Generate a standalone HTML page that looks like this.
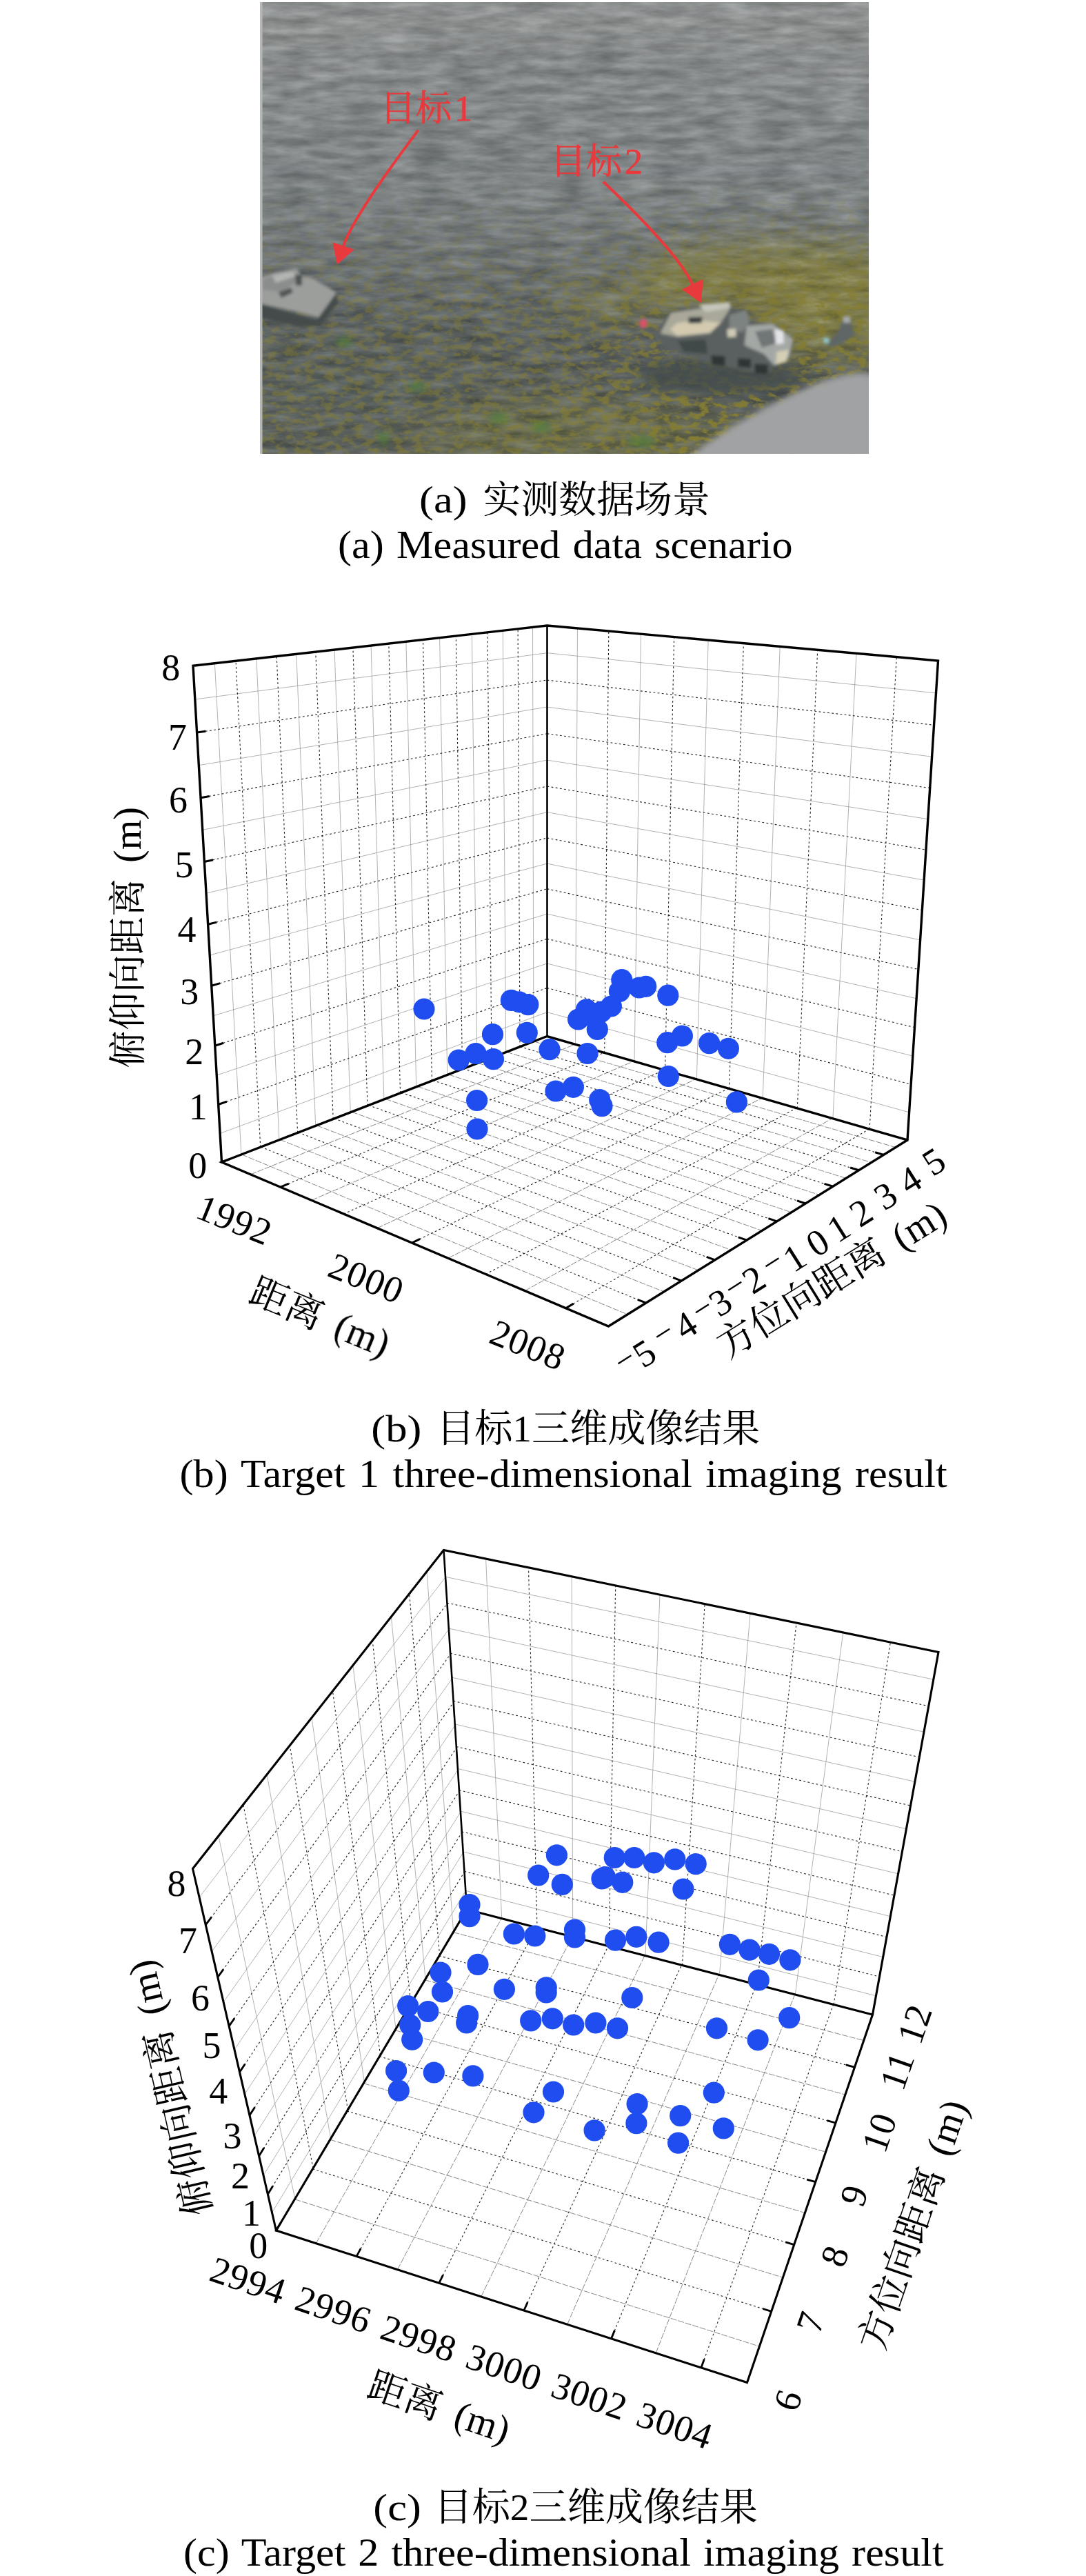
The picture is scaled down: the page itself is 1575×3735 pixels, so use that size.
<!DOCTYPE html><html><head><meta charset="utf-8"><title>fig</title><style>html,body{margin:0;padding:0;background:#fff;width:1575px;height:3735px;overflow:hidden}svg{display:block}text{font-family:"Liberation Serif","Noto Serif CJK SC",serif;fill:#000}</style></head><body>
<svg width="1575" height="3735" viewBox="0 0 1575 3735">
<rect width="1575" height="3735" fill="#fff"/>
<defs>
<clipPath id="pc"><rect x="377" y="3" width="883" height="655"/></clipPath>
<linearGradient id="bg" x1="0" y1="0" x2="0" y2="1">
<stop offset="0" stop-color="#949696"/><stop offset="0.12" stop-color="#8f9292"/><stop offset="0.24" stop-color="#868a8b"/><stop offset="0.42" stop-color="#7e8486"/><stop offset="0.58" stop-color="#697073"/><stop offset="0.72" stop-color="#545b5b"/><stop offset="1" stop-color="#505651"/>
</linearGradient>
<linearGradient id="ymaskg" x1="0" y1="0" x2="0" y2="1">
<stop offset="0.38" stop-color="#000"/><stop offset="0.54" stop-color="#555"/><stop offset="0.68" stop-color="#ccc"/><stop offset="1" stop-color="#fff"/>
</linearGradient>
<linearGradient id="ymaskh" x1="0" y1="0" x2="1" y2="0">
<stop offset="0" stop-color="#8a8a8a"/><stop offset="0.45" stop-color="#9a9a9a"/><stop offset="0.72" stop-color="#fff"/><stop offset="1" stop-color="#fff"/>
</linearGradient>
<mask id="ym" maskUnits="userSpaceOnUse" x="377" y="3" width="883" height="655">
<rect x="377" y="3" width="883" height="655" fill="url(#ymaskg)"/>
<rect x="377" y="3" width="883" height="655" fill="url(#ymaskh)" style="mix-blend-mode:multiply"/>
</mask>
<filter id="yel" filterUnits="userSpaceOnUse" x="377" y="3" width="883" height="655" color-interpolation-filters="sRGB">
<feTurbulence type="fractalNoise" baseFrequency="0.07 0.12" numOctaves="3" seed="7"/>
<feColorMatrix type="matrix" values="0 0 0 0 0.52  0 0 0 0 0.49  0 0 0 0 0.20  5 0 0 0 -2.3"/>
</filter>
<filter id="rip" filterUnits="userSpaceOnUse" x="377" y="3" width="883" height="655" color-interpolation-filters="sRGB">
<feTurbulence type="fractalNoise" baseFrequency="0.02 0.08" numOctaves="4" seed="11"/>
<feColorMatrix type="matrix" values="1.2 0 0 0 -0.11  1.2 0 0 0 -0.10  1.2 0 0 0 -0.10  0 0 0 0 0.22"/>
</filter>
<filter id="b1"><feGaussianBlur stdDeviation="1.3"/></filter>
<filter id="b2"><feGaussianBlur stdDeviation="2"/></filter>
<filter id="b4"><feGaussianBlur stdDeviation="4"/></filter>
<filter id="b8"><feGaussianBlur stdDeviation="9"/></filter>
<filter id="b20"><feGaussianBlur stdDeviation="22"/></filter>
</defs>
<g clip-path="url(#pc)">
<rect x="377" y="3" width="883" height="655" fill="url(#bg)"/>
<g filter="url(#b20)">
<ellipse cx="1130" cy="402" rx="205" ry="48" fill="#847f3a" opacity="0.9"/>
<ellipse cx="1200" cy="470" rx="110" ry="50" fill="#847f38" opacity="0.8"/>
<ellipse cx="900" cy="440" rx="90" ry="25" fill="#7d7a42" opacity="0.6"/>
<ellipse cx="820" cy="630" rx="240" ry="45" fill="#777640" opacity="0.55"/>
<ellipse cx="520" cy="570" rx="190" ry="75" fill="#535a58" opacity="0.6"/>
<ellipse cx="1050" cy="545" rx="125" ry="30" fill="#414949" opacity="0.9"/>
<ellipse cx="800" cy="95" rx="260" ry="14" fill="#6f7575" opacity="0.7"/>
<ellipse cx="640" cy="215" rx="160" ry="12" fill="#6d7373" opacity="0.5"/>
</g>
<rect x="377" y="3" width="883" height="655" filter="url(#rip)"/>
<g mask="url(#ym)"><rect x="377" y="3" width="883" height="655" filter="url(#yel)"/></g>
<ellipse cx="1045" cy="545" rx="120" ry="26" fill="#454d4d" opacity="0.85" filter="url(#b8)"/>
<g filter="url(#b4)" fill="#55803a" opacity="0.7"><ellipse cx="499" cy="496" rx="12" ry="7"/><ellipse cx="605" cy="561" rx="13" ry="7"/><ellipse cx="724" cy="606" rx="14" ry="8"/><ellipse cx="556" cy="635" rx="9" ry="9"/><ellipse cx="785" cy="619" rx="14" ry="8"/><ellipse cx="930" cy="640" rx="20" ry="8"/></g>
<g filter="url(#b2)">
<path d="M377,462 L377,440 L460,464 L470,440 L488,424 L490,440 L466,470 L440,474 Z" fill="#454c4c"/>
<path d="M377,403 L400,395 L430,389 L438,401 L452,403 L488,424 L462,460 L430,452 L377,440 Z" fill="#9c9e9c"/>
<path d="M381,405 L424,391 L436,404 L408,424 L381,420 Z" fill="#8a8d8b"/>
<path d="M395,400 L424,393 L430,400 L400,410 Z" fill="#b4b6b4"/>
<path d="M428,398 L438,398 L438,414 L429,414 Z" fill="#4d5453"/>
<path d="M404,424 L422,417 L425,424 L408,432 Z" fill="#4d5453"/>
</g>
<g filter="url(#b2)">
<path d="M951.3,485.1 L970.1,450.7 L1013.9,444.4 L1057.8,438.2 L1062.5,447.6 L1082.8,449.1 L1089.1,466.4 L1123.5,469.5 L1151.7,491.4 L1145.4,519.6 L1120.4,532.1 L1114.1,541.5 L1089.1,538.4 L1045.2,529.0 L998.3,516.4 L960.7,500.8 Z" fill="#5a6160"/>
<path d="M957.6,483.6 L973.2,453.8 L1013.9,447.6 L1054.6,441.3 L1057.8,449.1 L1045.2,467.9 L1029.6,483.6 L982.6,488.3 Z" fill="#a9a89a"/>
<path d="M971.7,477.3 L982.6,467.9 L1013.9,464.8 L1045.2,467.9 L1029.6,482.0 L982.6,486.7 Z" fill="#d3cab0"/>
<path d="M1013.9,441.9 L1057.8,438.2 L1059.6,446.3 L1023.3,452.6 Z" fill="#c6c6bc"/>
<path d="M998.3,460.1 L1018.6,459.5 L1017.7,468.2 L998.9,468.9 Z" fill="#373d3d"/>
<path d="M1082.8,472.6 L1120.4,469.5 L1150.1,491.4 L1143.9,518.0 L1123.5,530.5 L1107.9,513.3 L1079.7,500.8 Z" fill="#a4a8a5"/>
<path d="M1095.3,480.4 L1120.4,477.3 L1126.6,497.7 L1104.7,503.9 Z" fill="#6f7574"/>
<path d="M1123.5,477.3 L1136.0,479.5 L1136.7,497.7 L1125.1,499.2 Z" fill="#e3e4e8"/>
<path d="M1126.6,510.2 L1143.9,507.1 L1140.7,524.3 L1125.1,529.0 Z" fill="#d6cfb6"/>
<path d="M1057.8,457.0 L1082.8,449.1 L1087.5,466.4 L1076.5,482.0 L1057.8,477.3 Z" fill="#7d8381"/>
<path d="M1054.6,477.3 L1067.2,476.4 L1067.8,488.3 L1055.3,488.9 Z" fill="#cfcab5"/>
<path d="M1031.1,514.9 L1051.5,516.4 L1051.5,530.5 L1032.7,528.3 Z" fill="#2f3636"/>
<path d="M1069.7,519.6 L1089.1,520.2 L1089.1,533.7 L1070.3,532.1 Z" fill="#2f3636"/>
<path d="M1093.8,527.4 L1114.1,528.3 L1113.5,542.1 L1094.7,540.9 Z" fill="#2f3636"/>
<path d="M982.6,494.5 L1023.3,492.0 L1026.4,513.3 L992.0,510.2 Z" fill="#414847"/>
<ellipse cx="933" cy="469" rx="5.5" ry="6.5" fill="#e0506a"/>
<path d="M1198.6,500.8 L1217.4,477.3 L1222.1,461.7 L1233.1,460.1 L1236.2,477.3 L1240.9,485.1 L1220.6,497.7 L1208.0,503.9 Z" fill="#5f6666"/>
<path d="M1222.1,458.5 L1233.1,458.5 L1233.1,467.9 L1223.1,467.9 Z" fill="#a4aaaa"/>
<path d="M1194.0,489.8 L1201.8,489.8 L1201.8,497.7 L1194.6,497.7 Z" fill="#8fc6d6"/>
</g>
<path d="M993,666 Q1062,614 1146,573 T1268,544 L1268,666 Z" fill="#a1a2a4" filter="url(#b4)"/>
<rect x="377" y="3" width="3.5" height="655" fill="#b6b7b7"/>
</g>
<g fill="#e8393c" stroke="#e8393c" stroke-width="0.6" font-size="52">
<text x="551" y="174.5" style="fill:#e8393c">目标<tspan dx="4">1</tspan></text>
<text x="798" y="252" style="fill:#e8393c">目标<tspan dx="4">2</tspan></text>
<path d="M606.7,188.6 Q511.7,314.7 498,357" fill="none" stroke="#e8393c" stroke-width="4"/>
<path d="M482.2,351.2 L513.6,361.8 L489.2,383.8 Z" stroke="none"/>
<path d="M875,263.5 Q985,368 1005,414" fill="none" stroke="#e8393c" stroke-width="4"/>
<path d="M988.9,419.5 L1020.2,404.5 L1016.6,439.1 Z" stroke="none"/>
</g>
<path d="M349.9,1674.0L311.4,961.7M404.9,1652.7L371.9,954.9M457.7,1632.3L429.8,948.3M508.3,1612.8L485.1,942.0M556.9,1594.0L538.1,936.0M603.7,1575.9L588.9,930.2M648.7,1558.5L637.6,924.7M692.0,1541.8L684.4,919.4M733.7,1525.6L729.3,914.3M773.9,1510.1L772.5,909.4M319.1,1643.4L793.5,1467.6M314.2,1559.1L793.5,1396.9M309.3,1472.9L793.5,1325.1M304.2,1385.0L793.5,1252.0M299.0,1295.2L793.5,1177.6M293.7,1203.4L793.5,1102.0M288.3,1109.7L793.5,1025.0M282.8,1014.0L793.5,946.7M834.5,1514.3L837.5,911.0M920.0,1538.9L929.5,919.2M1010.4,1565.0L1027.2,928.0M1106.2,1592.6L1131.2,937.4M1207.9,1621.9L1242.0,947.3M793.5,1467.6L1318.6,1612.8M793.5,1397.0L1323.8,1531.1M793.5,1325.1L1329.1,1447.8M793.5,1252.1L1334.6,1362.8M793.5,1177.7L1340.1,1276.1M793.5,1102.1L1345.8,1187.6M793.5,1025.1L1351.6,1097.2M793.5,946.7L1357.5,1004.9" stroke="#808080" stroke-width="0.6" fill="none"/>
<path d="M363.4,1702.8L834.1,1514.2M451.8,1740.3L919.0,1538.7M547.0,1780.7L1009.1,1564.6M649.9,1824.3L1104.9,1592.2M761.3,1871.6L1207.0,1621.6M350.3,1673.9L910.1,1905.8M405.9,1652.4L962.9,1872.9M459.1,1631.8L1012.9,1841.8M509.9,1612.1L1060.2,1812.3M558.7,1593.3L1105.1,1784.3M605.3,1575.3L1147.8,1757.8M650.1,1557.9L1188.4,1732.5M693.1,1541.3L1227.0,1708.4M734.5,1525.3L1263.8,1685.5M774.2,1510.0L1299.0,1663.6" stroke="#484848" stroke-width="0.65" stroke-dasharray="9 2" fill="none"/>
<path d="M377.7,1663.3L342.0,958.3M431.6,1642.4L401.2,951.5M483.2,1622.5L457.8,945.1M532.9,1603.3L511.9,939.0M580.5,1584.8L563.8,933.1M626.4,1567.1L613.5,927.4M670.5,1550.0L661.3,922.0M713.0,1533.6L707.1,916.8M754.0,1517.8L751.1,911.8M316.7,1601.5L793.5,1432.4M311.8,1516.2L793.5,1361.2M306.7,1429.2L793.5,1288.7M301.6,1340.3L793.5,1215.0M296.4,1249.5L793.5,1140.0M291.0,1156.8L793.5,1063.7M285.6,1062.1L793.5,986.0M876.7,1526.5L882.8,915.0M964.6,1551.8L977.6,923.6M1057.6,1578.6L1078.4,932.6M1156.3,1607.0L1185.7,942.3M1261.1,1637.2L1300.3,952.6M793.5,1432.5L1321.2,1572.2M793.5,1361.2L1326.5,1489.7M793.5,1288.8L1331.8,1405.5M793.5,1215.0L1337.3,1319.7M793.5,1140.1L1343.0,1232.1M793.5,1063.7L1348.7,1142.6M793.5,986.1L1354.5,1051.3M406.8,1721.2L876.0,1526.3M498.5,1760.1L963.4,1551.4M597.4,1802.1L1056.3,1578.2M704.4,1847.5L1155.2,1606.7M820.6,1896.7L1260.6,1637.0M378.4,1663.0L936.9,1889.1M432.8,1642.0L988.2,1857.1M484.8,1621.9L1036.9,1826.9M534.6,1602.6L1083.0,1798.1M582.2,1584.2L1126.7,1770.9M628.0,1566.5L1168.3,1745.0M671.8,1549.5L1207.9,1720.3M714.0,1533.2L1245.6,1696.8M754.5,1517.6L1281.6,1674.4" stroke="#222" stroke-width="1.1" stroke-dasharray="2.8 3.4" fill="none"/>
<path d="M321.5,1685.0L280.0,965.3L793.5,907.0L1360.5,958.0L1316.0,1653.0L882.5,1923.0L321.5,1685.0L793.5,1502.5L1316.0,1653.0" stroke="#000" stroke-width="3.4" fill="none" stroke-linejoin="miter" stroke-linecap="square"/>
<path d="M793.5,907.0L793.5,1502.5" stroke="#000" stroke-width="2.6" fill="none"/>
<path d="M321.5,1685.0L333.6,1680.3M316.7,1601.5L328.9,1597.1M311.8,1516.2L324.1,1512.2M306.7,1429.2L319.2,1425.6M301.6,1340.3L314.2,1337.1M296.4,1249.5L309.1,1246.7M291.0,1156.8L303.8,1154.5M285.6,1062.1L298.4,1060.2M406.8,1721.2L418.8,1716.2M597.4,1802.1L609.1,1796.4M820.6,1896.7L831.8,1890.1M936.9,1889.1L924.8,1884.3M988.2,1857.1L976.1,1852.4M1036.9,1826.9L1024.7,1822.3M1083.0,1798.1L1070.7,1793.8M1126.7,1770.9L1114.4,1766.7M1168.3,1745.0L1156.0,1740.9M1207.9,1720.3L1195.5,1716.4M1245.6,1696.8L1233.2,1693.0M1281.6,1674.4L1269.2,1670.7" stroke="#000" stroke-width="3" fill="none"/>
<g fill="#1f4df0"><circle cx="615" cy="1463" r="15.6"/><circle cx="741.4" cy="1450.4" r="15.6"/><circle cx="753" cy="1452.8" r="15.6"/><circle cx="765.8" cy="1456.6" r="15.6"/><circle cx="714.5" cy="1499.7" r="15.6"/><circle cx="764.3" cy="1497.3" r="15.6"/><circle cx="665.2" cy="1537" r="15.6"/><circle cx="690" cy="1527.5" r="15.6"/><circle cx="715.5" cy="1535.6" r="15.6"/><circle cx="797" cy="1521.7" r="15.6"/><circle cx="852" cy="1527.5" r="15.6"/><circle cx="691.6" cy="1595.5" r="15.6"/><circle cx="692" cy="1637" r="15.6"/><circle cx="806" cy="1582" r="15.6"/><circle cx="831.4" cy="1576.3" r="15.6"/><circle cx="869.7" cy="1594.5" r="15.6"/><circle cx="873" cy="1603.6" r="15.6"/><circle cx="901.8" cy="1420.7" r="15.6"/><circle cx="898.4" cy="1437.5" r="15.6"/><circle cx="936.7" cy="1430.3" r="15.6"/><circle cx="927" cy="1432" r="15.6"/><circle cx="968.8" cy="1443.2" r="15.6"/><circle cx="886.4" cy="1459" r="15.6"/><circle cx="850.5" cy="1463.8" r="15.6"/><circle cx="872" cy="1467" r="15.6"/><circle cx="838.6" cy="1478" r="15.6"/><circle cx="862.5" cy="1475.8" r="15.6"/><circle cx="866.3" cy="1492.5" r="15.6"/><circle cx="967.8" cy="1511.7" r="15.6"/><circle cx="989.4" cy="1502" r="15.6"/><circle cx="1028.6" cy="1512.6" r="15.6"/><circle cx="1056.4" cy="1520.3" r="15.6"/><circle cx="969.3" cy="1560.5" r="15.6"/><circle cx="1068.4" cy="1597.9" r="15.6"/></g>
<text x="247.8" y="986.3" font-size="54" text-anchor="middle">8</text>
<text x="257.5" y="1086.8" font-size="54" text-anchor="middle">7</text>
<text x="258.5" y="1177.8" font-size="54" text-anchor="middle">6</text>
<text x="267" y="1272.3" font-size="54" text-anchor="middle">5</text>
<text x="271" y="1365.8" font-size="54" text-anchor="middle">4</text>
<text x="274.7" y="1455.8" font-size="54" text-anchor="middle">3</text>
<text x="281.8" y="1543.3" font-size="54" text-anchor="middle">2</text>
<text x="287.2" y="1622.8" font-size="54" text-anchor="middle">1</text>
<text x="286.8" y="1708.3" font-size="54" text-anchor="middle">0</text>
<text font-size="55" transform="translate(203.5 1549.0) rotate(-90)">俯仰向距离</text>
<text font-size="56" transform="translate(203.5 1251.0) rotate(-90)">(m)</text>
<text font-size="54" letter-spacing="1" text-anchor="middle" transform="translate(339.9 1769) rotate(22)" y="17.8">1992</text>
<text font-size="54" letter-spacing="1" text-anchor="middle" transform="translate(531.3 1853.7) rotate(22)" y="17.8">2000</text>
<text font-size="54" letter-spacing="1" text-anchor="middle" transform="translate(765.6 1950.4) rotate(22)" y="17.8">2008</text>
<text font-size="55" transform="translate(358.0 1886.5) rotate(22.5)">距离</text>
<text font-size="56" transform="translate(480.9 1937.4) rotate(22.5)">(m)</text>
<text font-size="54" text-anchor="middle" transform="translate(934.7 1962.5) rotate(-32.3)" y="17.8">5</text>
<text font-size="54" text-anchor="middle" transform="translate(994.5 1922.0) rotate(-32.3)" y="17.8">4</text>
<text font-size="54" text-anchor="middle" transform="translate(1045.0 1888.5) rotate(-32.3)" y="17.8">3</text>
<text font-size="54" text-anchor="middle" transform="translate(1093.5 1855.5) rotate(-32.3)" y="17.8">2</text>
<text font-size="54" text-anchor="middle" transform="translate(1152.5 1824.0) rotate(-32.3)" y="17.8">1</text>
<text font-size="54" text-anchor="middle" transform="translate(1186.0 1802.0) rotate(-32.3)" y="17.8">0</text>
<text font-size="54" text-anchor="middle" transform="translate(1216.5 1781.0) rotate(-32.3)" y="17.8">1</text>
<text font-size="54" text-anchor="middle" transform="translate(1249.0 1758.5) rotate(-32.3)" y="17.8">2</text>
<text font-size="54" text-anchor="middle" transform="translate(1284.3 1734.0) rotate(-32.3)" y="17.8">3</text>
<text font-size="54" text-anchor="middle" transform="translate(1320.0 1711.3) rotate(-32.3)" y="17.8">4</text>
<text font-size="54" text-anchor="middle" transform="translate(1354.5 1684.5) rotate(-32.3)" y="17.8">5</text>
<text font-size="48" text-anchor="middle" transform="translate(908.4 1975.0) rotate(-32.3)" y="11.5">−</text>
<text font-size="48" text-anchor="middle" transform="translate(964.1 1936.5) rotate(-32.3)" y="11.5">−</text>
<text font-size="48" text-anchor="middle" transform="translate(1020.8 1901.0) rotate(-32.3)" y="11.5">−</text>
<text font-size="48" text-anchor="middle" transform="translate(1068.0 1868.5) rotate(-32.3)" y="11.5">−</text>
<text font-size="48" text-anchor="middle" transform="translate(1122.4 1834.1) rotate(-32.3)" y="11.5">−</text>
<text font-size="55" transform="translate(1055.0 1971.0) rotate(-31.8)">方位向距离</text>
<text font-size="56" transform="translate(1308.3 1814.0) rotate(-31.8)">(m)</text>
<path d="M427.8,3188.1L316.9,2662.0M479.7,3100.7L387.2,2572.8M528.3,3018.8L452.0,2490.5M574.0,2941.9L511.9,2414.5M617.0,2869.5L567.4,2344.1M657.6,2801.2L619.0,2278.6M394.5,3208.1L675.3,2741.6M382.1,3154.1L671.7,2686.0M368.9,3096.9L667.9,2627.6M354.9,3036.2L664.0,2566.3M340.0,2971.7L659.9,2501.8M324.1,2902.9L655.5,2433.9M307.2,2829.4L650.9,2362.4M289.0,2750.9L646.0,2286.9M727.7,2781.6L704.6,2260.1M830.7,2808.3L829.2,2285.8M936.0,2835.6L957.0,2312.2M1043.4,2863.5L1088.1,2339.2M1153.3,2891.9L1222.7,2367.0M675.2,2741.3L1270.4,2893.8M671.6,2684.9L1280.7,2837.6M667.8,2626.1L1291.4,2778.6M663.9,2564.4L1302.6,2716.8M659.7,2499.9L1314.4,2651.7M655.4,2432.2L1326.9,2583.3M650.8,2361.1L1340.0,2511.2M646.0,2286.3L1353.8,2435.1" stroke="#808080" stroke-width="0.6" fill="none"/>
<path d="M458.3,3252.7L727.4,2781.6M576.4,3290.8L830.0,2808.1M697.8,3330.0L935.0,2835.4M822.7,3370.3L1042.5,2863.2M951.2,3411.8L1152.7,2891.8M427.4,3188.8L1101.4,3402.1M478.7,3102.3L1135.5,3302.2M527.2,3020.7L1167.4,3208.4M572.9,2943.7L1197.5,3120.2M616.2,2870.8L1225.9,3037.1M657.3,2801.7L1252.7,2958.6" stroke="#484848" stroke-width="0.65" stroke-dasharray="9 2" fill="none"/>
<path d="M454.1,3143.7L352.8,2616.4M504.4,3059.1L420.3,2530.8M551.5,2979.8L482.5,2451.8M595.8,2905.1L540.2,2378.7M637.6,2834.8L593.7,2310.7M388.4,3181.5L673.5,2714.1M375.6,3126.0L669.8,2657.1M362.0,3067.0L666.0,2597.3M347.5,3004.4L661.9,2534.4M332.2,2937.8L657.7,2468.3M315.8,2866.8L653.2,2398.6M298.3,2790.8L648.5,2325.1M779.0,2794.9L766.5,2272.9M883.1,2821.9L892.7,2298.9M989.4,2849.5L1022.1,2325.6M1098.1,2877.6L1155.0,2353.0M1209.1,2906.4L1291.4,2381.1M673.5,2713.4L1275.5,2866.1M669.8,2655.8L1285.9,2808.5M665.9,2595.6L1296.9,2748.1M661.8,2532.5L1308.5,2684.7M657.6,2466.4L1320.6,2618.0M653.1,2397.1L1333.3,2547.7M648.4,2324.2L1346.8,2473.7M517.0,3271.6L778.4,2794.8M636.7,3310.3L882.2,2821.7M759.8,3350.0L988.4,2849.2M886.5,3390.9L1097.3,2877.4M1016.9,3433.0L1208.7,2906.3M453.4,3144.9L1118.7,3351.3M503.3,3060.9L1151.7,3254.6M550.4,2981.7L1182.7,3163.7M594.9,2906.7L1211.9,3078.0M637.0,2835.8L1239.5,2997.3" stroke="#222" stroke-width="1.1" stroke-dasharray="2.8 3.4" fill="none"/>
<path d="M400.5,3234.0L279.5,2709.5L643.5,2247.5L1361.0,2395.5L1265.5,2921.0L1083.5,3454.5L400.5,3234.0L677.0,2768.5L1265.5,2921.0" stroke="#000" stroke-width="3.1" fill="none" stroke-linejoin="miter" stroke-linecap="square"/>
<path d="M643.5,2247.5L677.0,2768.5" stroke="#000" stroke-width="2.6" fill="none"/>
<path d="M400.5,3234.0L407.6,3222.0M388.4,3181.5L395.7,3169.6M375.6,3126.0L383.0,3114.1M362.0,3067.0L369.6,3055.3M347.5,3004.4L355.3,2992.8M332.2,2937.8L340.1,2926.3M315.8,2866.8L324.0,2855.4M298.3,2790.8L306.7,2779.7M517.0,3271.6L523.2,3260.2M636.7,3310.3L642.5,3298.6M759.8,3350.0L765.2,3338.2M886.5,3390.9L891.4,3378.9M1016.9,3433.0L1021.3,3420.8M1118.7,3351.3L1106.3,3347.5M1151.7,3254.6L1139.2,3250.9M1182.7,3163.7L1170.2,3160.1M1211.9,3078.0L1199.4,3074.6M1239.5,2997.3L1226.9,2993.9" stroke="#000" stroke-width="2.8" fill="none"/>
<g fill="#1f4df0"><circle cx="807.4" cy="2689.8" r="15.6"/><circle cx="780.7" cy="2719" r="15.6"/><circle cx="815.3" cy="2732.4" r="15.6"/><circle cx="891.3" cy="2693.5" r="15.6"/><circle cx="919.8" cy="2693.5" r="15.6"/><circle cx="948.4" cy="2700.8" r="15.6"/><circle cx="978.8" cy="2695.9" r="15.6"/><circle cx="1009.2" cy="2702.6" r="15.6"/><circle cx="873" cy="2723.9" r="15.6"/><circle cx="877.5" cy="2721.5" r="15.6"/><circle cx="902.8" cy="2729.3" r="15.6"/><circle cx="990.9" cy="2739" r="15.6"/><circle cx="681" cy="2761.5" r="15.6"/><circle cx="681" cy="2778.6" r="15.6"/><circle cx="745.4" cy="2804" r="15.6"/><circle cx="775.8" cy="2807" r="15.6"/><circle cx="833.5" cy="2798" r="15.6"/><circle cx="833.5" cy="2809" r="15.6"/><circle cx="892.5" cy="2813.2" r="15.6"/><circle cx="922.9" cy="2808.3" r="15.6"/><circle cx="955.1" cy="2816.2" r="15.6"/><circle cx="1058.4" cy="2819.3" r="15.6"/><circle cx="1087" cy="2827.2" r="15.6"/><circle cx="1115.5" cy="2833.3" r="15.6"/><circle cx="1145.9" cy="2841.8" r="15.6"/><circle cx="1100.3" cy="2871" r="15.6"/><circle cx="693" cy="2848.4" r="15.6"/><circle cx="639" cy="2860" r="15.6"/><circle cx="641.5" cy="2888" r="15.6"/><circle cx="731.4" cy="2884.3" r="15.6"/><circle cx="792.2" cy="2881.9" r="15.6"/><circle cx="792.2" cy="2889" r="15.6"/><circle cx="916.8" cy="2896.5" r="15.6"/><circle cx="591.7" cy="2908.6" r="15.6"/><circle cx="620.8" cy="2916.5" r="15.6"/><circle cx="678.6" cy="2922.6" r="15.6"/><circle cx="676.7" cy="2933" r="15.6"/><circle cx="769.7" cy="2929.9" r="15.6"/><circle cx="801.3" cy="2926.8" r="15.6"/><circle cx="831.7" cy="2936" r="15.6"/><circle cx="863.9" cy="2933" r="15.6"/><circle cx="895.5" cy="2940.8" r="15.6"/><circle cx="594.7" cy="2936" r="15.6"/><circle cx="597.7" cy="2957.2" r="15.6"/><circle cx="1039.5" cy="2940.8" r="15.6"/><circle cx="1144.7" cy="2925.6" r="15.6"/><circle cx="1099.1" cy="2957.8" r="15.6"/><circle cx="574.6" cy="3002.6" r="15.6"/><circle cx="578.3" cy="3031.2" r="15.6"/><circle cx="629.3" cy="3005" r="15.6"/><circle cx="685.9" cy="3009.9" r="15.6"/><circle cx="802.5" cy="3033" r="15.6"/><circle cx="774" cy="3062.8" r="15.6"/><circle cx="862.1" cy="3088.9" r="15.6"/><circle cx="924.1" cy="3050.6" r="15.6"/><circle cx="922.9" cy="3078.6" r="15.6"/><circle cx="986.7" cy="3067.6" r="15.6"/><circle cx="983.6" cy="3107.1" r="15.6"/><circle cx="1035.3" cy="3034.2" r="15.6"/><circle cx="1049.3" cy="3085.9" r="15.6"/></g>
<text x="256" y="2748.8" font-size="54" text-anchor="middle">8</text>
<text x="272.5" y="2831.8" font-size="54" text-anchor="middle">7</text>
<text x="290.5" y="2914.7000000000003" font-size="54" text-anchor="middle">6</text>
<text x="307" y="2983.8" font-size="54" text-anchor="middle">5</text>
<text x="316.7" y="3049.8" font-size="54" text-anchor="middle">4</text>
<text x="337" y="3114.8" font-size="54" text-anchor="middle">3</text>
<text x="348.5" y="3172.8" font-size="54" text-anchor="middle">2</text>
<text x="364.5" y="3226.8" font-size="54" text-anchor="middle">1</text>
<text x="374.8" y="3273.8" font-size="54" text-anchor="middle">0</text>
<text font-size="55" transform="translate(307.5 3208.0) rotate(-103)">俯仰向距离</text>
<text font-size="56" transform="translate(240.5 2917.6) rotate(-103)">(m)</text>
<text font-size="54" letter-spacing="1" transform="translate(301.3 3305.7) rotate(18.76)" word-spacing="4.2">2994 2996 2998 3000 3002 3004</text>
<text font-size="55" transform="translate(529.4 3474.0) rotate(18.76)">距离</text>
<text font-size="56" transform="translate(655.3 3516.8) rotate(18.76)">(m)</text>
<text font-size="54" letter-spacing="1" text-anchor="middle" transform="translate(1143 3479.9) rotate(-71)" y="17.8">6</text>
<text font-size="54" letter-spacing="1" text-anchor="middle" transform="translate(1176 3367) rotate(-71)" y="17.8">7</text>
<text font-size="54" letter-spacing="1" text-anchor="middle" transform="translate(1211 3271) rotate(-71)" y="17.8">8</text>
<text font-size="54" letter-spacing="1" text-anchor="middle" transform="translate(1239 3183) rotate(-71)" y="17.8">9</text>
<text font-size="54" letter-spacing="1" text-anchor="middle" transform="translate(1275.6 3092) rotate(-71)" y="17.8">10</text>
<text font-size="54" letter-spacing="1" text-anchor="middle" transform="translate(1301.4 3002.5) rotate(-71)" y="17.8">11</text>
<text font-size="54" letter-spacing="1" text-anchor="middle" transform="translate(1327 2934.6) rotate(-71)" y="17.8">12</text>
<text font-size="55" transform="translate(1280.8 3411.0) rotate(-71)">方位向距离</text>
<text font-size="56" transform="translate(1377.8 3129.2) rotate(-71)">(m)</text>
<text font-size="56" transform="translate(608 743) scale(1.12 1)" word-spacing="0">(a)</text>
<text x="700.5" y="743" font-size="54.9">实测数据场景</text>
<text font-size="56" transform="translate(490 809) scale(1.075 1)" word-spacing="3.0">(a) Measured data scenario</text>
<text font-size="56" transform="translate(538.3 2090) scale(1.12 1)" word-spacing="0">(b)</text>
<text x="633" y="2090" font-size="55.2">目标1三维成像结果</text>
<text font-size="56" transform="translate(260.5 2156) scale(1.075 1)" word-spacing="4.0">(b) Target 1 three-dimensional imaging result</text>
<text font-size="56" transform="translate(541.3 3654) scale(1.12 1)" word-spacing="0">(c)</text>
<text x="629.5" y="3654" font-size="55.2">目标2三维成像结果</text>
<text font-size="56" transform="translate(266 3720) scale(1.075 1)" word-spacing="2.7">(c) Target 2 three-dimensional imaging result</text>
</svg></body></html>
